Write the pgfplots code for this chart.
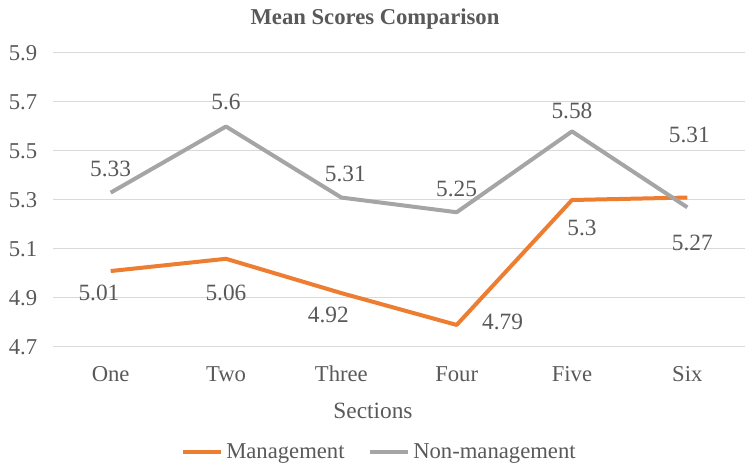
\documentclass[border=0pt]{standalone}
\usepackage{fontspec}
\setmainfont{Liberation Serif}
\usepackage{pgfplots}
\pgfplotsset{compat=1.18}
\definecolor{mgmt}{HTML}{ED7D31}
\definecolor{nonmgmt}{HTML}{A5A5A5}
\definecolor{txt}{HTML}{595959}
\definecolor{gridc}{HTML}{D9D9D9}
\tikzset{dl/.style={font=\fontsize{14}{16}\selectfont, text=txt, inner sep=0pt}}
\begin{document}
\begin{tikzpicture}
\path[use as bounding box] (0,0) rectangle (450pt,283.2pt);
\node[font=\fontsize{13.6}{16}\selectfont\bfseries, text=txt] at (225pt,271.8pt) {Mean Scores Comparison};
\begin{axis}[
  at={(31.8pt,75pt)}, anchor=south west,
  scale only axis, width=415.2pt, height=176.4pt,
  xmin=-0.5, xmax=5.5, ymin=4.7, ymax=5.9,
  xtick={0,1,2,3,4,5},
  xticklabels={One,Two,Three,Four,Five,Six},
  ytick={4.7,4.9,5.1,5.3,5.5,5.7,5.9},
  yticklabel style={/pgf/number format/fixed, /pgf/number format/fixed zerofill, /pgf/number format/precision=1, xshift=-6pt},
  /pgf/number format/assume math mode=true,
  ymajorgrids, major grid style={gridc, line width=0.6pt},
  axis line style={draw=none},
  major tick length=0pt,
  tick label style={font=\fontsize{13.6}{15}\selectfont, text=txt},
  xticklabel style={yshift=-8pt},
  xlabel={Sections},
  xlabel style={font=\fontsize{14}{16}\selectfont, text=txt, at={(axis description cs:0.4624,-0.216)}, anchor=center},
  legend columns=2,
  legend style={draw=none, fill=none, font=\fontsize{13.6}{15}\selectfont, text=txt,
    at={(axis description cs:0.4725,-0.357)}, anchor=center,
    /tikz/every even column/.append style={column sep=12pt}},
  legend image code/.code={\draw[#1] (0pt,0pt) -- (22.8pt,0pt);},
  clip=false,
]
\addplot[mgmt, line width=2.4pt, line join=round, no marks] coordinates {
  (0,5.01) (1,5.06) (2,4.92) (3,4.79) (4,5.3) (5,5.31)};
\addlegendentry{Management}
\addplot[nonmgmt, line width=2.4pt, line join=round, no marks] coordinates {
  (0,5.33) (1,5.6) (2,5.31) (3,5.25) (4,5.58) (5,5.27)};
\addlegendentry{Non-management}
% data labels - Non-management
\node[dl] at ([shift={(0pt,14.2pt)}]axis cs:0,5.33) {5.33};
\node[dl] at ([shift={(0pt,15pt)}]axis cs:1,5.6) {5.6};
\node[dl] at ([shift={(2.4pt,14.2pt)}]axis cs:2,5.31) {5.31};
\node[dl] at ([shift={(0pt,13.8pt)}]axis cs:3,5.25) {5.25};
\node[dl] at ([shift={(0pt,12pt)}]axis cs:4,5.58) {5.58};
\node[dl] at ([shift={(3pt,-21.6pt)}]axis cs:5,5.27) {5.27};
% data labels - Management
\node[dl] at ([shift={(-7pt,-13.2pt)}]axis cs:0,5.01) {5.01};
\node[dl] at ([shift={(0pt,-20.5pt)}]axis cs:1,5.06) {5.06};
\node[dl] at ([shift={(-7.8pt,-13.2pt)}]axis cs:2,4.92) {4.92};
\node[dl] at ([shift={(27.6pt,1.8pt)}]axis cs:3,4.79) {4.79};
\node[dl] at ([shift={(6pt,-16.8pt)}]axis cs:4,5.3) {5.3};
\node[dl] at ([shift={(1.2pt,37.6pt)}]axis cs:5,5.31) {5.31};
\end{axis}
\end{tikzpicture}
\end{document}
